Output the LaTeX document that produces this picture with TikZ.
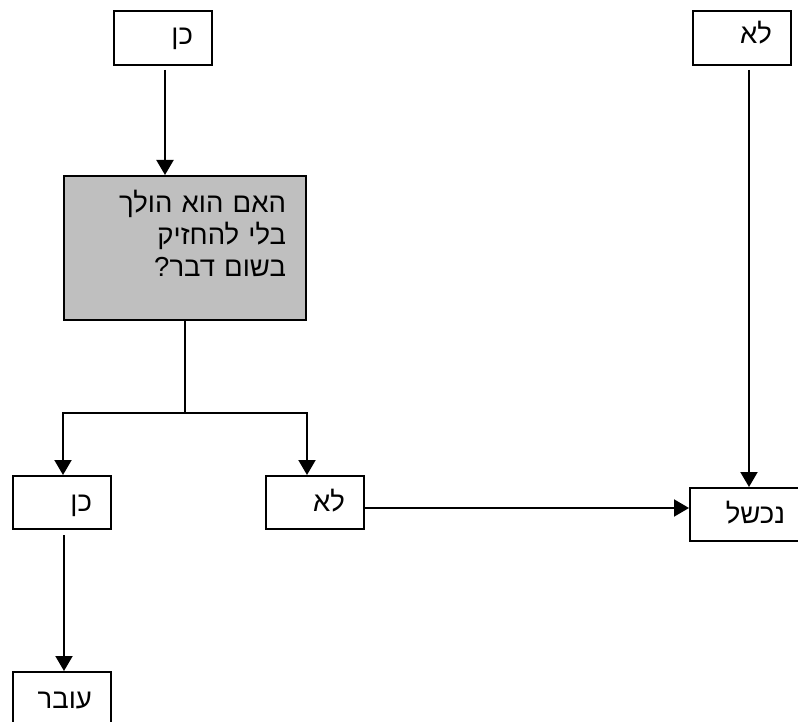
\documentclass[tikz,border=0pt]{standalone}
\usepackage{fontspec}
\usetikzlibrary{positioning,arrows.meta}
\setmainfont{Liberation Sans}
\newfontfamily\hebfont[Script=Hebrew]{Liberation Sans}
\TeXXeTstate=1

\begin{document}
\begin{tikzpicture}[x=1pt,y=-1pt,
						box/.style={draw,line width=2pt,anchor=north west,inner xsep=19pt,inner ysep=0pt,text width=60pt,align=right,font=\hebfont\fontsize{27.5}{32}\selectfont,text height=34pt,text depth=20pt},
						low/.style={text height=35pt,text depth=18pt},
						question/.style={box,fill=black!25,inner xsep=20pt,text width=202pt,text height=37pt,text depth=107pt},
						arr/.style={line width=2pt,-{Triangle[length=15pt,width=17pt]}}]
		\useasboundingbox (0,0) rectangle (798,722);
		\node[box]								(0)	at (113,10)	{\beginR כן\endR};
		\node[question]							(1)	at (63,175)	{\beginR האם הוא הולך\endR\\\beginR בלי להחזיק\endR\\\beginR בשום דבר?\endR};
		\node[box,low]							(2)	at (12,475)	{\beginR כן\endR};
		\node[box,low]							(3)	at (265,475)	{\beginR לא\endR};
		\node[box,low,text height=36pt]			(4)	at (12,671)	{\beginR עובר\endR};
		\node[box,low,text width=76pt]			(5)	at (689,487)	{\beginR נכשל\endR};
		\node[box,text height=33pt,text depth=21pt]	(6)	at (692,10)	{\beginR לא\endR};
		\coordinate								(7)	at ([yshift=-92pt]1.south);

		\draw[arr,shorten <=4pt] ([xshift=2pt]0.south) -- ([xshift=2pt]0.south |- 1.north);
		\draw[line width=2pt] (1.south) -- (7);
		\draw[arr] (7) -| (2.north -| 1.west);
		\draw[arr] (7) -| (3.north -| 1.east);
		\draw[arr,shorten <=5pt] ([xshift=2pt]2.south) -- ([xshift=2pt]4.north);
		\draw[arr] ([yshift=-5.5pt]3.east) -- ([yshift=-5.5pt]3.east -| 5.west);
		\draw[arr,shorten <=4pt] ([xshift=7pt]6.south) -- ([xshift=7pt]6.south |- 5.north);
	\end{tikzpicture}
\end{document}
